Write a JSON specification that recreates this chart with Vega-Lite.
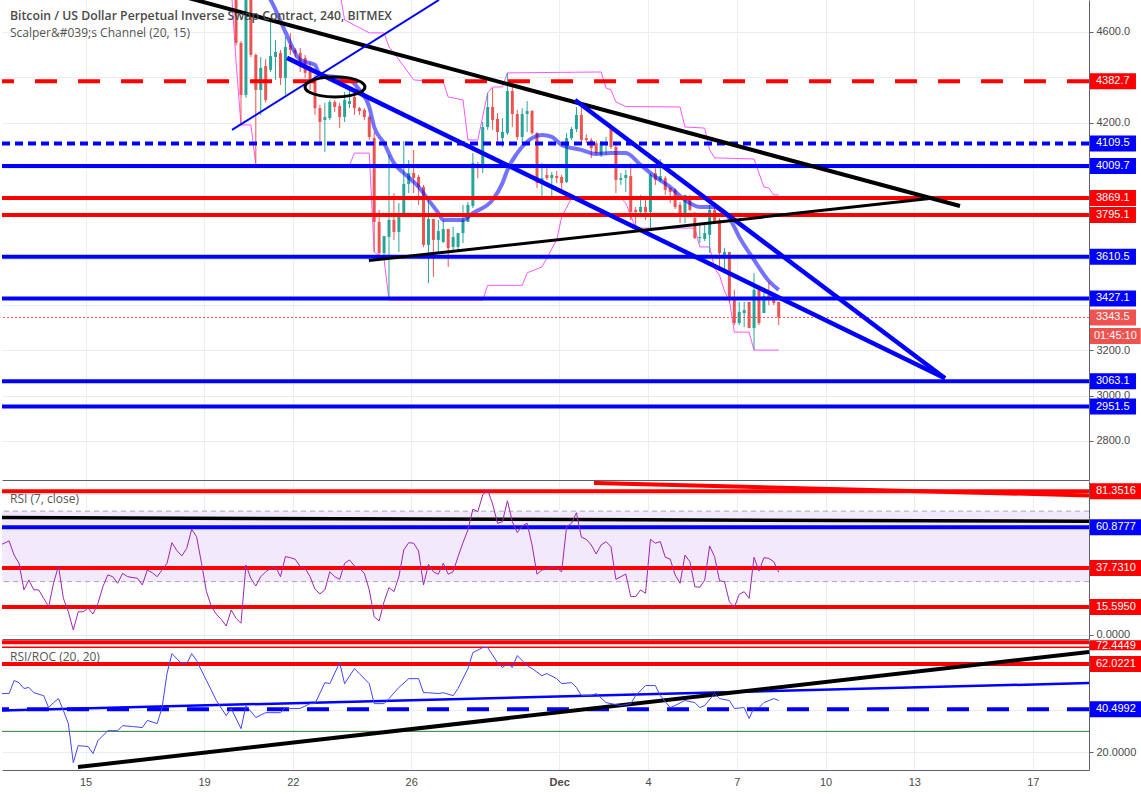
{
"$schema":"https://vega.github.io/schema/vega-lite/v6.json",
"padding":0,
"background":"white",
"spacing":1,
"bounds":"flush",
"config":{"view":{"stroke":null},
"scale":{"continuousPadding":0},
"axisX":{"grid":true,"ticks":false,"gridColor":"#e9eef3","domainColor":"#5d606b","labelColor":"#4a4a4a","labelFontSize":11,"labelFont":"Liberation Sans"},
"axisY":{"grid":true,"gridColor":"#e9eef3","domainColor":"#5d606b","tickColor":"#5d606b","tickSize":4,"labelColor":"#4a4a4a","labelFontSize":11,"labelFont":"Liberation Sans","labelPadding":3}},
"datasets":{
"cnd":[
{"t":"2018-11-20T02:00Z","o":4790,"h":4830,"l":4540,"c":4552},
{"t":"2018-11-20T06:00Z","o":4552,"h":4560,"l":4191,"c":4323},
{"t":"2018-11-20T10:00Z","o":4323,"h":4800,"l":4310,"c":4780},
{"t":"2018-11-20T14:00Z","o":4780,"h":4800,"l":4490,"c":4499},
{"t":"2018-11-20T18:00Z","o":4499,"h":4505,"l":4015,"c":4345},
{"t":"2018-11-20T22:00Z","o":4345,"h":4490,"l":4235,"c":4442},
{"t":"2018-11-21T02:00Z","o":4450,"h":4480,"l":4290,"c":4301},
{"t":"2018-11-21T06:00Z","o":4433,"h":4653,"l":4424,"c":4494},
{"t":"2018-11-21T10:00Z","o":4490,"h":4565,"l":4389,"c":4512},
{"t":"2018-11-21T14:00Z","o":4508,"h":4521,"l":4367,"c":4398},
{"t":"2018-11-21T18:00Z","o":4398,"h":4578,"l":4323,"c":4534},
{"t":"2018-11-21T22:00Z","o":4543,"h":4596,"l":4499,"c":4521},
{"t":"2018-11-22T02:00Z","o":4521,"h":4530,"l":4486,"c":4508},
{"t":"2018-11-22T06:00Z","o":4508,"h":4530,"l":4424,"c":4446},
{"t":"2018-11-22T10:00Z","o":4486,"h":4499,"l":4398,"c":4420},
{"t":"2018-11-22T14:00Z","o":4446,"h":4468,"l":4345,"c":4389},
{"t":"2018-11-22T18:00Z","o":4398,"h":4411,"l":4235,"c":4265},
{"t":"2018-11-22T22:00Z","o":4265,"h":4279,"l":4111,"c":4204},
{"t":"2018-11-23T02:00Z","o":4213,"h":4288,"l":4072,"c":4226},
{"t":"2018-11-23T06:00Z","o":4221,"h":4301,"l":4213,"c":4292},
{"t":"2018-11-23T10:00Z","o":4292,"h":4301,"l":4248,"c":4270},
{"t":"2018-11-23T14:00Z","o":4274,"h":4288,"l":4177,"c":4226},
{"t":"2018-11-23T18:00Z","o":4226,"h":4336,"l":4204,"c":4301},
{"t":"2018-11-23T22:00Z","o":4283,"h":4345,"l":4265,"c":4296},
{"t":"2018-11-24T02:00Z","o":4314,"h":4332,"l":4235,"c":4265},
{"t":"2018-11-24T06:00Z","o":4265,"h":4270,"l":4235,"c":4252},
{"t":"2018-11-24T10:00Z","o":4257,"h":4265,"l":4213,"c":4226},
{"t":"2018-11-24T14:00Z","o":4226,"h":4235,"l":4125,"c":4138},
{"t":"2018-11-24T18:00Z","o":4133,"h":4160,"l":3632,"c":3764},
{"t":"2018-11-24T22:00Z","o":3764,"h":3817,"l":3619,"c":3627},
{"t":"2018-11-25T02:00Z","o":3627,"h":3702,"l":3597,"c":3702},
{"t":"2018-11-25T06:00Z","o":3698,"h":4059,"l":3420,"c":3773},
{"t":"2018-11-25T10:00Z","o":3773,"h":3891,"l":3685,"c":3720},
{"t":"2018-11-25T14:00Z","o":3720,"h":3847,"l":3632,"c":3795},
{"t":"2018-11-25T18:00Z","o":3795,"h":4120,"l":3786,"c":3931},
{"t":"2018-11-25T22:00Z","o":3931,"h":4037,"l":3891,"c":3979},
{"t":"2018-11-26T02:00Z","o":3979,"h":4081,"l":3891,"c":3957},
{"t":"2018-11-26T06:00Z","o":3962,"h":3971,"l":3839,"c":3918},
{"t":"2018-11-26T10:00Z","o":3918,"h":3927,"l":3654,"c":3663},
{"t":"2018-11-26T14:00Z","o":3663,"h":3865,"l":3495,"c":3777},
{"t":"2018-11-26T18:00Z","o":3777,"h":3777,"l":3522,"c":3685},
{"t":"2018-11-26T22:00Z","o":3685,"h":3773,"l":3632,"c":3724},
{"t":"2018-11-27T02:00Z","o":3676,"h":3773,"l":3671,"c":3733},
{"t":"2018-11-27T06:00Z","o":3733,"h":3733,"l":3566,"c":3649},
{"t":"2018-11-27T10:00Z","o":3654,"h":3742,"l":3636,"c":3698},
{"t":"2018-11-27T14:00Z","o":3654,"h":3715,"l":3641,"c":3715},
{"t":"2018-11-27T18:00Z","o":3715,"h":3839,"l":3671,"c":3773},
{"t":"2018-11-27T22:00Z","o":3764,"h":3852,"l":3764,"c":3839},
{"t":"2018-11-28T02:00Z","o":3834,"h":4067,"l":3825,"c":4023},
{"t":"2018-11-28T06:00Z","o":4019,"h":4028,"l":3957,"c":4001},
{"t":"2018-11-28T10:00Z","o":4001,"h":4204,"l":3979,"c":4182},
{"t":"2018-11-28T14:00Z","o":4182,"h":4332,"l":4169,"c":4270},
{"t":"2018-11-28T18:00Z","o":4270,"h":4354,"l":4169,"c":4213},
{"t":"2018-11-28T22:00Z","o":4217,"h":4243,"l":4116,"c":4160},
{"t":"2018-11-29T02:00Z","o":4133,"h":4221,"l":4094,"c":4160},
{"t":"2018-11-29T06:00Z","o":4155,"h":4420,"l":4147,"c":4340},
{"t":"2018-11-29T10:00Z","o":4340,"h":4358,"l":4182,"c":4239},
{"t":"2018-11-29T14:00Z","o":4239,"h":4257,"l":4125,"c":4138},
{"t":"2018-11-29T18:00Z","o":4138,"h":4265,"l":4111,"c":4239},
{"t":"2018-11-29T22:00Z","o":4239,"h":4296,"l":4160,"c":4252},
{"t":"2018-11-30T02:00Z","o":4252,"h":4257,"l":4147,"c":4155},
{"t":"2018-11-30T06:00Z","o":4155,"h":4160,"l":3913,"c":3935},
{"t":"2018-11-30T10:00Z","o":3935,"h":4023,"l":3869,"c":3957},
{"t":"2018-11-30T14:00Z","o":3971,"h":4010,"l":3949,"c":3957},
{"t":"2018-11-30T18:00Z","o":3957,"h":3984,"l":3869,"c":3971},
{"t":"2018-11-30T22:00Z","o":3966,"h":3988,"l":3935,"c":3957},
{"t":"2018-12-01T02:00Z","o":3962,"h":3971,"l":3900,"c":3935},
{"t":"2018-12-01T06:00Z","o":3940,"h":4155,"l":3935,"c":4133},
{"t":"2018-12-01T10:00Z","o":4133,"h":4182,"l":4125,"c":4173},
{"t":"2018-12-01T14:00Z","o":4173,"h":4270,"l":4160,"c":4235},
{"t":"2018-12-01T18:00Z","o":4235,"h":4270,"l":4111,"c":4125},
{"t":"2018-12-01T22:00Z","o":4133,"h":4150,"l":4111,"c":4125},
{"t":"2018-12-02T02:00Z","o":4125,"h":4133,"l":4045,"c":4089},
{"t":"2018-12-02T06:00Z","o":4111,"h":4120,"l":4059,"c":4067},
{"t":"2018-12-02T10:00Z","o":4059,"h":4120,"l":4050,"c":4111},
{"t":"2018-12-02T14:00Z","o":4103,"h":4138,"l":4059,"c":4116},
{"t":"2018-12-02T18:00Z","o":4182,"h":4182,"l":4085,"c":4094},
{"t":"2018-12-02T22:00Z","o":4094,"h":4111,"l":3891,"c":3949},
{"t":"2018-12-03T02:00Z","o":3949,"h":3979,"l":3927,"c":3957},
{"t":"2018-12-03T06:00Z","o":3957,"h":3993,"l":3896,"c":3971},
{"t":"2018-12-03T10:00Z","o":3966,"h":4023,"l":3773,"c":3808},
{"t":"2018-12-03T14:00Z","o":3817,"h":3830,"l":3742,"c":3808},
{"t":"2018-12-03T18:00Z","o":3808,"h":3883,"l":3786,"c":3830},
{"t":"2018-12-03T22:00Z","o":3830,"h":3865,"l":3773,"c":3808},
{"t":"2018-12-04T02:00Z","o":3808,"h":3979,"l":3729,"c":3971},
{"t":"2018-12-04T06:00Z","o":3979,"h":4001,"l":3927,"c":3949},
{"t":"2018-12-04T10:00Z","o":3949,"h":4041,"l":3940,"c":3966},
{"t":"2018-12-04T14:00Z","o":3957,"h":3966,"l":3883,"c":3905},
{"t":"2018-12-04T18:00Z","o":3913,"h":3918,"l":3847,"c":3896},
{"t":"2018-12-04T22:00Z","o":3905,"h":3913,"l":3821,"c":3830},
{"t":"2018-12-05T02:00Z","o":3839,"h":3852,"l":3759,"c":3790},
{"t":"2018-12-05T06:00Z","o":3795,"h":3883,"l":3759,"c":3883},
{"t":"2018-12-05T10:00Z","o":3874,"h":3883,"l":3812,"c":3817},
{"t":"2018-12-05T14:00Z","o":3781,"h":3808,"l":3689,"c":3693},
{"t":"2018-12-05T18:00Z","o":3693,"h":3751,"l":3671,"c":3698},
{"t":"2018-12-05T22:00Z","o":3689,"h":3751,"l":3680,"c":3715},
{"t":"2018-12-06T02:00Z","o":3707,"h":3839,"l":3627,"c":3817},
{"t":"2018-12-06T06:00Z","o":3817,"h":3839,"l":3759,"c":3764},
{"t":"2018-12-06T10:00Z","o":3773,"h":3781,"l":3553,"c":3627},
{"t":"2018-12-06T14:00Z","o":3619,"h":3649,"l":3544,"c":3632},
{"t":"2018-12-06T18:00Z","o":3632,"h":3632,"l":3407,"c":3420},
{"t":"2018-12-06T22:00Z","o":3429,"h":3465,"l":3310,"c":3319},
{"t":"2018-12-07T02:00Z","o":3319,"h":3412,"l":3310,"c":3368},
{"t":"2018-12-07T06:00Z","o":3363,"h":3412,"l":3302,"c":3376},
{"t":"2018-12-07T10:00Z","o":3412,"h":3412,"l":3297,"c":3297},
{"t":"2018-12-07T14:00Z","o":3297,"h":3539,"l":3200,"c":3465},
{"t":"2018-12-07T18:00Z","o":3465,"h":3465,"l":3310,"c":3319},
{"t":"2018-12-07T22:00Z","o":3363,"h":3456,"l":3363,"c":3438},
{"t":"2018-12-08T02:00Z","o":3442,"h":3500,"l":3398,"c":3429},
{"t":"2018-12-08T06:00Z","o":3429,"h":3438,"l":3398,"c":3407},
{"t":"2018-12-08T10:00Z","o":3412,"h":3412,"l":3310,"c":3343.5}
],
"ma":[
{"t":"2018-11-20T22:00Z","p":4800},{"t":"2018-11-21T06:00Z","p":4741},{"t":"2018-11-21T18:00Z","p":4600},{"t":"2018-11-22T06:00Z","p":4477},{"t":"2018-11-22T18:00Z","p":4455},{"t":"2018-11-22T22:00Z","p":4411},{"t":"2018-11-23T10:00Z","p":4402},{"t":"2018-11-23T22:00Z","p":4389},{"t":"2018-11-24T06:00Z","p":4345},{"t":"2018-11-24T14:00Z","p":4270},{"t":"2018-11-24T18:00Z","p":4182},{"t":"2018-11-25T02:00Z","p":4111},{"t":"2018-11-25T10:00Z","p":4023},{"t":"2018-11-25T18:00Z","p":3979},{"t":"2018-11-26T06:00Z","p":3918},{"t":"2018-11-26T14:00Z","p":3861},{"t":"2018-11-26T22:00Z","p":3803},{"t":"2018-11-27T02:00Z","p":3773},{"t":"2018-11-27T18:00Z","p":3773},{"t":"2018-11-28T02:00Z","p":3803},{"t":"2018-11-28T18:00Z","p":3861},{"t":"2018-11-29T02:00Z","p":3935},{"t":"2018-11-29T06:00Z","p":3993},{"t":"2018-11-29T14:00Z","p":4067},{"t":"2018-11-30T02:00Z","p":4133},{"t":"2018-11-30T10:00Z","p":4147},{"t":"2018-11-30T18:00Z","p":4138},{"t":"2018-12-01T02:00Z","p":4103},{"t":"2018-12-01T18:00Z","p":4081},{"t":"2018-12-02T06:00Z","p":4063},{"t":"2018-12-02T18:00Z","p":4067},{"t":"2018-12-03T06:00Z","p":4067},{"t":"2018-12-03T18:00Z","p":4015},{"t":"2018-12-04T06:00Z","p":3962},{"t":"2018-12-04T18:00Z","p":3918},{"t":"2018-12-05T06:00Z","p":3861},{"t":"2018-12-05T18:00Z","p":3830},{"t":"2018-12-06T06:00Z","p":3830},{"t":"2018-12-06T10:00Z","p":3820},{"t":"2018-12-06T18:00Z","p":3781},{"t":"2018-12-07T02:00Z","p":3698},{"t":"2018-12-07T14:00Z","p":3597},{"t":"2018-12-08T02:00Z","p":3504},{"t":"2018-12-08T10:00Z","p":3465}
],
"chan":[
{"b":"upper","t":"2018-11-23T14:00Z","p":4780},{"b":"upper","t":"2018-11-23T18:00Z","p":4653},{"b":"upper","t":"2018-11-24T14:00Z","p":4596},{"b":"upper","t":"2018-11-25T02:00Z","p":4596},{"b":"upper","t":"2018-11-25T06:00Z","p":4534},{"b":"upper","t":"2018-11-25T10:00Z","p":4508},{"b":"upper","t":"2018-11-26T02:00Z","p":4389},{"b":"upper","t":"2018-11-27T02:00Z","p":4380},{"b":"upper","t":"2018-11-27T06:00Z","p":4314},{"b":"upper","t":"2018-11-27T18:00Z","p":4301},{"b":"upper","t":"2018-11-27T22:00Z","p":4125},{"b":"upper","t":"2018-11-28T06:00Z","p":4125},{"b":"upper","t":"2018-11-28T14:00Z","p":4332},{"b":"upper","t":"2018-11-28T18:00Z","p":4358},{"b":"upper","t":"2018-11-29T02:00Z","p":4358},{"b":"upper","t":"2018-11-29T06:00Z","p":4420},{"b":"upper","t":"2018-12-02T10:00Z","p":4424},{"b":"upper","t":"2018-12-02T14:00Z","p":4354},{"b":"upper","t":"2018-12-02T18:00Z","p":4345},{"b":"upper","t":"2018-12-02T22:00Z","p":4292},{"b":"upper","t":"2018-12-03T06:00Z","p":4272},{"b":"upper","t":"2018-12-05T02:00Z","p":4270},{"b":"upper","t":"2018-12-05T06:00Z","p":4182},{"b":"upper","t":"2018-12-05T22:00Z","p":4177},{"b":"upper","t":"2018-12-06T02:00Z","p":4081},{"b":"upper","t":"2018-12-06T06:00Z","p":4046},{"b":"upper","t":"2018-12-07T14:00Z","p":4041},{"b":"upper","t":"2018-12-07T18:00Z","p":3979},{"b":"upper","t":"2018-12-07T22:00Z","p":3918},{"b":"upper","t":"2018-12-08T02:00Z","p":3913},{"b":"upper","t":"2018-12-08T06:00Z","p":3883},{"b":"upper","t":"2018-12-08T10:00Z","p":3883},
{"b":"lower","t":"2018-11-19T22:00Z","p":4800},{"b":"lower","t":"2018-11-20T02:00Z","p":4468},{"b":"lower","t":"2018-11-20T06:00Z","p":4191},{"b":"lower","t":"2018-11-20T14:00Z","p":4191},{"b":"lower","t":"2018-11-20T18:00Z","p":4015},{"b":"lower","t":"2018-11-23T22:00Z","p":4015},{"b":"lower","t":"2018-11-24T02:00Z","p":4067},{"b":"lower","t":"2018-11-24T14:00Z","p":4067},{"b":"lower","t":"2018-11-24T18:00Z","p":3632},{"b":"lower","t":"2018-11-25T02:00Z","p":3600},{"b":"lower","t":"2018-11-25T06:00Z","p":3420},{"b":"lower","t":"2018-11-28T10:00Z","p":3420},{"b":"lower","t":"2018-11-28T14:00Z","p":3485},{"b":"lower","t":"2018-11-29T18:00Z","p":3485},{"b":"lower","t":"2018-11-29T22:00Z","p":3540},{"b":"lower","t":"2018-11-30T10:00Z","p":3566},{"b":"lower","t":"2018-11-30T22:00Z","p":3685},{"b":"lower","t":"2018-12-01T02:00Z","p":3786},{"b":"lower","t":"2018-12-01T10:00Z","p":3869},{"b":"lower","t":"2018-12-03T02:00Z","p":3869},{"b":"lower","t":"2018-12-03T06:00Z","p":3847},{"b":"lower","t":"2018-12-03T14:00Z","p":3737},{"b":"lower","t":"2018-12-05T14:00Z","p":3737},{"b":"lower","t":"2018-12-05T18:00Z","p":3654},{"b":"lower","t":"2018-12-06T02:00Z","p":3654},{"b":"lower","t":"2018-12-06T06:00Z","p":3560},{"b":"lower","t":"2018-12-06T10:00Z","p":3530},{"b":"lower","t":"2018-12-06T14:00Z","p":3460},{"b":"lower","t":"2018-12-06T18:00Z","p":3420},{"b":"lower","t":"2018-12-06T22:00Z","p":3279},{"b":"lower","t":"2018-12-07T10:00Z","p":3279},{"b":"lower","t":"2018-12-07T14:00Z","p":3200},{"b":"lower","t":"2018-12-08T10:00Z","p":3200}
],
"lv_red":[{"p":3869.1},{"p":3795.1}],
"lv_red_dash":[{"p":4382.7}],
"lv_blue":[{"p":4009.7},{"p":3610.5},{"p":3427.1},{"p":3063.1},{"p":2951.5}],
"lv_blue_dash":[{"p":4109.5}],
"last":[{"p":3343.5}],
"countdown":[{"p":3262,"txt":"01:45:10"}],
"tl_black":[{"t":"2018-11-18T02:54Z","p":4762},{"t":"2018-12-14T13:00Z","p":3834}],
"tl_bthin":[{"t":"2018-11-19T22:42Z","p":4169},{"t":"2018-11-26T22:30Z","p":4741}],
"tl_bthick":[{"id":"a","t":"2018-11-21T19:18Z","p":4486},{"id":"a","t":"2018-12-14T00:48Z","p":3076},{"id":"b","t":"2018-12-01T12:48Z","p":4301},{"id":"b","t":"2018-12-14T00:48Z","p":3076}],
"tl_black2":[{"t":"2018-11-24T13:42Z","p":3594},{"t":"2018-12-13T15:54Z","p":3869}],
"ellipse":[{"i":0,"t":"2018-11-24T10:30Z","p":4358},{"i":1,"t":"2018-11-24T07:18Z","p":4336},{"i":2,"t":"2018-11-23T22:24Z","p":4320},{"i":3,"t":"2018-11-23T10:12Z","p":4314},{"i":4,"t":"2018-11-22T22:06Z","p":4320},{"i":5,"t":"2018-11-22T13:06Z","p":4336},{"i":6,"t":"2018-11-22T09:54Z","p":4358},{"i":7,"t":"2018-11-22T13:06Z","p":4380},{"i":8,"t":"2018-11-22T22:06Z","p":4397},{"i":9,"t":"2018-11-23T10:12Z","p":4402},{"i":10,"t":"2018-11-23T22:24Z","p":4397},{"i":11,"t":"2018-11-24T07:18Z","p":4380}],
"rsi":[
{"t":"2018-11-12T02:00Z","p":50.5},{"t":"2018-11-12T06:00Z","p":51.8},{"t":"2018-11-12T10:00Z","p":53.1},{"t":"2018-11-12T14:00Z","p":45.1},{"t":"2018-11-12T18:00Z","p":40.4},{"t":"2018-11-12T22:00Z","p":25.3},{"t":"2018-11-13T02:00Z","p":30.9},{"t":"2018-11-13T06:00Z","p":25.3},{"t":"2018-11-13T10:00Z","p":25.3},{"t":"2018-11-13T14:00Z","p":20.5},{"t":"2018-11-13T18:00Z","p":15.8},{"t":"2018-11-13T22:00Z","p":29.1},{"t":"2018-11-14T02:00Z","p":38.9},{"t":"2018-11-14T06:00Z","p":20.5},{"t":"2018-11-14T10:00Z","p":12.9},{"t":"2018-11-14T14:00Z","p":2.6},{"t":"2018-11-14T18:00Z","p":12.9},{"t":"2018-11-14T22:00Z","p":12.9},{"t":"2018-11-15T02:00Z","p":14.9},{"t":"2018-11-15T06:00Z","p":11.6},{"t":"2018-11-15T10:00Z","p":17.7},{"t":"2018-11-15T14:00Z","p":27.1},{"t":"2018-11-15T18:00Z","p":33.8},{"t":"2018-11-15T22:00Z","p":32.8},{"t":"2018-11-16T02:00Z","p":29.1},{"t":"2018-11-16T06:00Z","p":34.7},{"t":"2018-11-16T10:00Z","p":32.8},{"t":"2018-11-16T18:00Z","p":31.9},{"t":"2018-11-16T22:00Z","p":28.1},{"t":"2018-11-17T02:00Z","p":36.6},{"t":"2018-11-17T06:00Z","p":35.1},{"t":"2018-11-17T10:00Z","p":32.8},{"t":"2018-11-17T14:00Z","p":36.6},{"t":"2018-11-17T18:00Z","p":40.4},{"t":"2018-11-17T22:00Z","p":52.1},{"t":"2018-11-18T02:00Z","p":47.6},{"t":"2018-11-18T06:00Z","p":44.6},{"t":"2018-11-18T10:00Z","p":48.9},{"t":"2018-11-18T14:00Z","p":59.7},{"t":"2018-11-18T18:00Z","p":55.5},{"t":"2018-11-18T22:00Z","p":40.4},{"t":"2018-11-19T02:00Z","p":24.3},{"t":"2018-11-19T06:00Z","p":15.8},{"t":"2018-11-19T10:00Z","p":11.5},{"t":"2018-11-19T14:00Z","p":8.6},{"t":"2018-11-19T18:00Z","p":4.8},{"t":"2018-11-19T22:00Z","p":13.9},{"t":"2018-11-20T02:00Z","p":9.2},{"t":"2018-11-20T06:00Z","p":6.4},{"t":"2018-11-20T10:00Z","p":39.4},{"t":"2018-11-20T14:00Z","p":31.9},{"t":"2018-11-20T18:00Z","p":27.5},{"t":"2018-11-20T22:00Z","p":32.8},{"t":"2018-11-21T02:00Z","p":35.6},{"t":"2018-11-21T06:00Z","p":37.6},{"t":"2018-11-21T10:00Z","p":38.5},{"t":"2018-11-21T14:00Z","p":32.8},{"t":"2018-11-21T18:00Z","p":44.2},{"t":"2018-11-21T22:00Z","p":43.6},{"t":"2018-11-22T02:00Z","p":42.7},{"t":"2018-11-22T06:00Z","p":38.5},{"t":"2018-11-22T10:00Z","p":37.6},{"t":"2018-11-22T14:00Z","p":32.8},{"t":"2018-11-22T18:00Z","p":25.7},{"t":"2018-11-22T22:00Z","p":23.0},{"t":"2018-11-23T02:00Z","p":25.3},{"t":"2018-11-23T06:00Z","p":35.6},{"t":"2018-11-23T10:00Z","p":32.8},{"t":"2018-11-23T14:00Z","p":31.3},{"t":"2018-11-23T18:00Z","p":40.4},{"t":"2018-11-23T22:00Z","p":42.3},{"t":"2018-11-24T02:00Z","p":38.9},{"t":"2018-11-24T06:00Z","p":37.6},{"t":"2018-11-24T10:00Z","p":34.7},{"t":"2018-11-24T14:00Z","p":25.3},{"t":"2018-11-24T18:00Z","p":10.1},{"t":"2018-11-24T22:00Z","p":7.7},{"t":"2018-11-25T02:00Z","p":18.6},{"t":"2018-11-25T06:00Z","p":26.6},{"t":"2018-11-25T10:00Z","p":24.3},{"t":"2018-11-25T14:00Z","p":32.8},{"t":"2018-11-25T18:00Z","p":48.0},{"t":"2018-11-25T22:00Z","p":52.1},{"t":"2018-11-26T02:00Z","p":51.8},{"t":"2018-11-26T06:00Z","p":47.4},{"t":"2018-11-26T10:00Z","p":28.1},{"t":"2018-11-26T14:00Z","p":39.8},{"t":"2018-11-26T18:00Z","p":35.6},{"t":"2018-11-26T22:00Z","p":34.2},{"t":"2018-11-27T02:00Z","p":40.4},{"t":"2018-11-27T06:00Z","p":34.2},{"t":"2018-11-27T10:00Z","p":35.6},{"t":"2018-11-27T14:00Z","p":44.2},{"t":"2018-11-27T18:00Z","p":52.1},{"t":"2018-11-27T22:00Z","p":59.3},{"t":"2018-11-28T02:00Z","p":71.1},{"t":"2018-11-28T06:00Z","p":69.7},{"t":"2018-11-28T10:00Z","p":79.2},{"t":"2018-11-28T14:00Z","p":82.0},{"t":"2018-11-28T18:00Z","p":74.1},{"t":"2018-11-28T22:00Z","p":63.1},{"t":"2018-11-29T02:00Z","p":64.0},{"t":"2018-11-29T06:00Z","p":75.9},{"t":"2018-11-29T10:00Z","p":64.0},{"t":"2018-11-29T14:00Z","p":57.8},{"t":"2018-11-29T18:00Z","p":61.6},{"t":"2018-11-29T22:00Z","p":63.1},{"t":"2018-11-30T02:00Z","p":50.8},{"t":"2018-11-30T06:00Z","p":34.2},{"t":"2018-11-30T10:00Z","p":36.6},{"t":"2018-11-30T14:00Z","p":37.0},{"t":"2018-11-30T18:00Z","p":38.5},{"t":"2018-11-30T22:00Z","p":37.6},{"t":"2018-12-01T02:00Z","p":35.6},{"t":"2018-12-01T06:00Z","p":61.2},{"t":"2018-12-01T10:00Z","p":63.1},{"t":"2018-12-01T14:00Z","p":69.1},{"t":"2018-12-01T18:00Z","p":55.2},{"t":"2018-12-01T22:00Z","p":54.0},{"t":"2018-12-02T02:00Z","p":50.8},{"t":"2018-12-02T06:00Z","p":45.7},{"t":"2018-12-02T10:00Z","p":50.8},{"t":"2018-12-02T14:00Z","p":52.7},{"t":"2018-12-02T18:00Z","p":49.8},{"t":"2018-12-02T22:00Z","p":31.3},{"t":"2018-12-03T02:00Z","p":32.8},{"t":"2018-12-03T06:00Z","p":34.3},{"t":"2018-12-03T10:00Z","p":21.5},{"t":"2018-12-03T14:00Z","p":21.5},{"t":"2018-12-03T18:00Z","p":25.3},{"t":"2018-12-03T22:00Z","p":23.4},{"t":"2018-12-04T02:00Z","p":54.0},{"t":"2018-12-04T06:00Z","p":51.8},{"t":"2018-12-04T10:00Z","p":52.7},{"t":"2018-12-04T14:00Z","p":43.8},{"t":"2018-12-04T18:00Z","p":42.8},{"t":"2018-12-04T22:00Z","p":33.8},{"t":"2018-12-05T02:00Z","p":29.1},{"t":"2018-12-05T06:00Z","p":45.1},{"t":"2018-12-05T10:00Z","p":41.3},{"t":"2018-12-05T14:00Z","p":27.1},{"t":"2018-12-05T18:00Z","p":26.8},{"t":"2018-12-05T22:00Z","p":30.9},{"t":"2018-12-06T02:00Z","p":50.2},{"t":"2018-12-06T06:00Z","p":44.2},{"t":"2018-12-06T10:00Z","p":30.5},{"t":"2018-12-06T14:00Z","p":30.0},{"t":"2018-12-06T18:00Z","p":18.6},{"t":"2018-12-06T22:00Z","p":15.4},{"t":"2018-12-07T02:00Z","p":22.8},{"t":"2018-12-07T06:00Z","p":24.3},{"t":"2018-12-07T10:00Z","p":20.5},{"t":"2018-12-07T14:00Z","p":43.8},{"t":"2018-12-07T18:00Z","p":36.0},{"t":"2018-12-07T22:00Z","p":43.6},{"t":"2018-12-08T02:00Z","p":43.2},{"t":"2018-12-08T06:00Z","p":41.3},{"t":"2018-12-08T10:00Z","p":35.3}
],
"rsi_band":[{"p":70},{"p":30}],
"rsi_lv_red":[{"p":81.3516},{"p":37.731},{"p":15.595}],
"rsi_lv_blue":[{"p":60.8777}],
"rsi_black":[{"t":"2018-11-12T04:12Z","p":66.35},{"t":"2018-12-18T21:36Z","p":64.25}],
"rsi_red":[{"t":"2018-12-02T04:12Z","p":86.0},{"t":"2018-12-18T21:36Z","p":78.9}],
"roc":[
{"t":"2018-11-12T02:00Z","p":48.0},{"t":"2018-11-12T10:00Z","p":48.0},{"t":"2018-11-12T14:00Z","p":54.2},{"t":"2018-11-12T18:00Z","p":53.2},{"t":"2018-11-12T22:00Z","p":50.4},{"t":"2018-11-13T02:00Z","p":50.9},{"t":"2018-11-13T06:00Z","p":48.4},{"t":"2018-11-13T14:00Z","p":47.0},{"t":"2018-11-13T18:00Z","p":41.3},{"t":"2018-11-13T22:00Z","p":43.7},{"t":"2018-11-14T02:00Z","p":45.6},{"t":"2018-11-14T06:00Z","p":39.9},{"t":"2018-11-14T10:00Z","p":33.7},{"t":"2018-11-14T14:00Z","p":15.1},{"t":"2018-11-14T18:00Z","p":23.2},{"t":"2018-11-15T02:00Z","p":22.8},{"t":"2018-11-15T06:00Z","p":19.4},{"t":"2018-11-15T10:00Z","p":25.6},{"t":"2018-11-15T18:00Z","p":30.3},{"t":"2018-11-16T02:00Z","p":30.3},{"t":"2018-11-16T06:00Z","p":32.7},{"t":"2018-11-16T14:00Z","p":32.3},{"t":"2018-11-16T22:00Z","p":31.8},{"t":"2018-11-17T02:00Z","p":35.2},{"t":"2018-11-17T10:00Z","p":33.7},{"t":"2018-11-17T14:00Z","p":41.3},{"t":"2018-11-17T18:00Z","p":57.5},{"t":"2018-11-17T22:00Z","p":67.0},{"t":"2018-11-18T06:00Z","p":62.2},{"t":"2018-11-18T10:00Z","p":62.2},{"t":"2018-11-18T14:00Z","p":67.0},{"t":"2018-11-18T18:00Z","p":63.7},{"t":"2018-11-19T02:00Z","p":54.2},{"t":"2018-11-19T06:00Z","p":49.5},{"t":"2018-11-19T10:00Z","p":44.7},{"t":"2018-11-19T18:00Z","p":37.5},{"t":"2018-11-19T22:00Z","p":40.9},{"t":"2018-11-20T06:00Z","p":31.3},{"t":"2018-11-20T10:00Z","p":42.3},{"t":"2018-11-20T18:00Z","p":36.6},{"t":"2018-11-21T02:00Z","p":38.9},{"t":"2018-11-21T14:00Z","p":38.9},{"t":"2018-11-21T18:00Z","p":41.3},{"t":"2018-11-21T22:00Z","p":40.9},{"t":"2018-11-22T06:00Z","p":40.9},{"t":"2018-11-22T14:00Z","p":43.2},{"t":"2018-11-22T18:00Z","p":43.2},{"t":"2018-11-23T02:00Z","p":53.2},{"t":"2018-11-23T06:00Z","p":52.7},{"t":"2018-11-23T14:00Z","p":62.7},{"t":"2018-11-23T18:00Z","p":52.7},{"t":"2018-11-24T02:00Z","p":59.9},{"t":"2018-11-24T06:00Z","p":57.5},{"t":"2018-11-24T14:00Z","p":52.7},{"t":"2018-11-24T18:00Z","p":43.2},{"t":"2018-11-25T02:00Z","p":43.2},{"t":"2018-11-25T06:00Z","p":45.6},{"t":"2018-11-25T14:00Z","p":50.9},{"t":"2018-11-25T22:00Z","p":55.1},{"t":"2018-11-26T06:00Z","p":55.1},{"t":"2018-11-26T10:00Z","p":48.4},{"t":"2018-11-26T14:00Z","p":48.4},{"t":"2018-11-26T22:00Z","p":48.0},{"t":"2018-11-27T02:00Z","p":48.4},{"t":"2018-11-27T10:00Z","p":47.0},{"t":"2018-11-27T14:00Z","p":50.4},{"t":"2018-11-27T22:00Z","p":59.9},{"t":"2018-11-28T02:00Z","p":67.5},{"t":"2018-11-28T10:00Z","p":69.9},{"t":"2018-11-28T14:00Z","p":69.9},{"t":"2018-11-28T22:00Z","p":62.7},{"t":"2018-11-29T02:00Z","p":60.4},{"t":"2018-11-29T06:00Z","p":62.2},{"t":"2018-11-29T10:00Z","p":60.4},{"t":"2018-11-29T14:00Z","p":66.1},{"t":"2018-11-29T22:00Z","p":61.3},{"t":"2018-11-30T02:00Z","p":59.9},{"t":"2018-11-30T10:00Z","p":56.5},{"t":"2018-11-30T14:00Z","p":57.5},{"t":"2018-11-30T22:00Z","p":55.1},{"t":"2018-12-01T02:00Z","p":52.7},{"t":"2018-12-01T10:00Z","p":53.2},{"t":"2018-12-01T14:00Z","p":50.9},{"t":"2018-12-01T18:00Z","p":47.0},{"t":"2018-12-02T02:00Z","p":47.0},{"t":"2018-12-02T06:00Z","p":48.0},{"t":"2018-12-02T14:00Z","p":43.7},{"t":"2018-12-02T18:00Z","p":43.2},{"t":"2018-12-03T02:00Z","p":42.3},{"t":"2018-12-03T10:00Z","p":43.2},{"t":"2018-12-03T14:00Z","p":47.0},{"t":"2018-12-03T22:00Z","p":51.8},{"t":"2018-12-04T06:00Z","p":51.8},{"t":"2018-12-04T10:00Z","p":47.0},{"t":"2018-12-04T18:00Z","p":41.3},{"t":"2018-12-04T22:00Z","p":42.3},{"t":"2018-12-05T06:00Z","p":44.7},{"t":"2018-12-05T14:00Z","p":43.7},{"t":"2018-12-05T18:00Z","p":41.3},{"t":"2018-12-05T22:00Z","p":42.3},{"t":"2018-12-06T06:00Z","p":48.0},{"t":"2018-12-06T10:00Z","p":45.6},{"t":"2018-12-06T18:00Z","p":44.7},{"t":"2018-12-06T22:00Z","p":40.9},{"t":"2018-12-07T06:00Z","p":41.3},{"t":"2018-12-07T10:00Z","p":36.1},{"t":"2018-12-07T14:00Z","p":41.3},{"t":"2018-12-07T18:00Z","p":41.3},{"t":"2018-12-07T22:00Z","p":43.7},{"t":"2018-12-08T06:00Z","p":45.6},{"t":"2018-12-08T10:00Z","p":44.7}
],
"roc_lv_red":[{"p":72.4449},{"p":62.0221}],
"roc_thin_red":[{"p":70}],
"roc_lv_blue_dash":[{"p":40.4992}],
"roc_green":[{"p":30}],
"roc_blue":[{"t":"2018-11-12T04:12Z","p":39.93},{"t":"2018-12-18T21:36Z","p":53.0}],
"roc_black":[{"t":"2018-11-14T17:48Z","p":13.0},{"t":"2018-12-18T21:36Z","p":67.8}]
},
"vconcat":[
{"width":1087,"height":480,
"layer":[
{"data":{"name":"chan"},"mark":{"type":"line","color":"#ff55ff","strokeWidth":1,"clip":true},"encoding":{"x":{"field":"t","type":"temporal","scale":{"type":"utc","domain":[1541995920000,1545168960000],"padding":0},"axis":{"values":[1542240000000,1542585600000,1542844800000,1543190400000,1543622400000,1543881600000,1544140800000,1544400000000,1544659200000,1545004800000],"title":null,"labels":false}},"y":{"field":"p","type":"quantitative","scale":{"domain":[2628.3,4740.8],"nice":false,"zero":false,"padding":0},"axis":{"orient":"right","values":[2800,3000,3200,3400,3600,3800,4000,4200,4400,4600],"labelExpr":"indexof([4400,4000,3800,3600,3400], datum.value) >= 0 ? '' : format(datum.value, '.1f')","title":null}},"detail":{"field":"b"}}},
{"data":{"name":"cnd"},"mark":{"type":"rule","strokeWidth":1,"clip":true},"encoding":{"x":{"field":"t","type":"temporal","scale":{"type":"utc","domain":[1541995920000,1545168960000],"padding":0}},"y":{"field":"l","type":"quantitative","scale":{"domain":[2628.3,4740.8],"nice":false,"zero":false,"padding":0}},"y2":{"field":"h"},"color":{"condition":{"test":"datum.c >= datum.o","value":"#26a69a"},"value":"#ef5350"}}},
{"data":{"name":"cnd"},"mark":{"type":"bar","size":3,"clip":true},"encoding":{"x":{"field":"t","type":"temporal","scale":{"type":"utc","domain":[1541995920000,1545168960000],"padding":0}},"y":{"field":"o","type":"quantitative","scale":{"domain":[2628.3,4740.8],"nice":false,"zero":false,"padding":0}},"y2":{"field":"c"},"color":{"condition":{"test":"datum.c >= datum.o","value":"#26a69a"},"value":"#ef5350"}}},
{"data":{"name":"ma"},"mark":{"type":"line","color":"#0000ff","opacity":0.55,"strokeWidth":4,"interpolate":"monotone","clip":true},"encoding":{"x":{"field":"t","type":"temporal","scale":{"type":"utc","domain":[1541995920000,1545168960000],"padding":0}},"y":{"field":"p","type":"quantitative","scale":{"domain":[2628.3,4740.8],"nice":false,"zero":false,"padding":0}}}},
{"data":{"name":"lv_red"},"layer":[
 {"mark":{"type":"rule","color":"#ff0000","strokeWidth":4},"encoding":{"y":{"field":"p","type":"quantitative","scale":{"domain":[2628.3,4740.8],"nice":false,"zero":false,"padding":0}}}},
 {"mark":{"type":"bar","size":16,"color":"#ff0000"},"encoding":{"x":{"datum":1545171900000,"type":"temporal","scale":{"type":"utc","domain":[1541995920000,1545168960000],"padding":0}},"x2":{"datum":1545306120000},"y":{"field":"p","type":"quantitative","scale":{"domain":[2628.3,4740.8],"nice":false,"zero":false,"padding":0}}}},
 {"mark":{"type":"text","align":"left","baseline":"middle","dx":7,"color":"white","fontSize":11,"font":"Liberation Sans"},"encoding":{"x":{"datum":1545168960000,"type":"temporal","scale":{"type":"utc","domain":[1541995920000,1545168960000],"padding":0}},"y":{"field":"p","type":"quantitative","scale":{"domain":[2628.3,4740.8],"nice":false,"zero":false,"padding":0}},"text":{"field":"p","type":"quantitative","format":".1f"}}}
]},
{"data":{"name":"lv_red_dash"},"layer":[
 {"mark":{"type":"rule","color":"#ff0000","strokeWidth":4,"strokeDash":[22,21]},"encoding":{"y":{"field":"p","type":"quantitative","scale":{"domain":[2628.3,4740.8],"nice":false,"zero":false,"padding":0}}}},
 {"mark":{"type":"bar","size":16,"color":"#ff0000"},"encoding":{"x":{"datum":1545171900000,"type":"temporal","scale":{"type":"utc","domain":[1541995920000,1545168960000],"padding":0}},"x2":{"datum":1545306120000},"y":{"field":"p","type":"quantitative","scale":{"domain":[2628.3,4740.8],"nice":false,"zero":false,"padding":0}}}},
 {"mark":{"type":"text","align":"left","baseline":"middle","dx":7,"color":"white","fontSize":11,"font":"Liberation Sans"},"encoding":{"x":{"datum":1545168960000,"type":"temporal","scale":{"type":"utc","domain":[1541995920000,1545168960000],"padding":0}},"y":{"field":"p","type":"quantitative","scale":{"domain":[2628.3,4740.8],"nice":false,"zero":false,"padding":0}},"text":{"field":"p","type":"quantitative","format":".1f"}}}
]},
{"data":{"name":"lv_blue"},"layer":[
 {"mark":{"type":"rule","color":"#0000ff","strokeWidth":4},"encoding":{"y":{"field":"p","type":"quantitative","scale":{"domain":[2628.3,4740.8],"nice":false,"zero":false,"padding":0}}}},
 {"mark":{"type":"bar","size":16,"color":"#0000ff"},"encoding":{"x":{"datum":1545171900000,"type":"temporal","scale":{"type":"utc","domain":[1541995920000,1545168960000],"padding":0}},"x2":{"datum":1545306120000},"y":{"field":"p","type":"quantitative","scale":{"domain":[2628.3,4740.8],"nice":false,"zero":false,"padding":0}}}},
 {"mark":{"type":"text","align":"left","baseline":"middle","dx":7,"color":"white","fontSize":11,"font":"Liberation Sans"},"encoding":{"x":{"datum":1545168960000,"type":"temporal","scale":{"type":"utc","domain":[1541995920000,1545168960000],"padding":0}},"y":{"field":"p","type":"quantitative","scale":{"domain":[2628.3,4740.8],"nice":false,"zero":false,"padding":0}},"text":{"field":"p","type":"quantitative","format":".1f"}}}
]},
{"data":{"name":"lv_blue_dash"},"layer":[
 {"mark":{"type":"rule","color":"#0000ff","strokeWidth":4,"strokeDash":[8,5]},"encoding":{"y":{"field":"p","type":"quantitative","scale":{"domain":[2628.3,4740.8],"nice":false,"zero":false,"padding":0}}}},
 {"mark":{"type":"bar","size":16,"color":"#0000ff"},"encoding":{"x":{"datum":1545171900000,"type":"temporal","scale":{"type":"utc","domain":[1541995920000,1545168960000],"padding":0}},"x2":{"datum":1545306120000},"y":{"field":"p","type":"quantitative","scale":{"domain":[2628.3,4740.8],"nice":false,"zero":false,"padding":0}}}},
 {"mark":{"type":"text","align":"left","baseline":"middle","dx":7,"color":"white","fontSize":11,"font":"Liberation Sans"},"encoding":{"x":{"datum":1545168960000,"type":"temporal","scale":{"type":"utc","domain":[1541995920000,1545168960000],"padding":0}},"y":{"field":"p","type":"quantitative","scale":{"domain":[2628.3,4740.8],"nice":false,"zero":false,"padding":0}},"text":{"field":"p","type":"quantitative","format":".1f"}}}
]},
{"data":{"name":"last"},"layer":[
 {"mark":{"type":"rule","color":"#ef5350","strokeWidth":1,"strokeDash":[2,2]},"encoding":{"y":{"field":"p","type":"quantitative","scale":{"domain":[2628.3,4740.8],"nice":false,"zero":false,"padding":0}}}},
 {"mark":{"type":"bar","size":16,"color":"#ef5350"},"encoding":{"x":{"datum":1545171900000,"type":"temporal","scale":{"type":"utc","domain":[1541995920000,1545168960000],"padding":0}},"x2":{"datum":1545306120000},"y":{"field":"p","type":"quantitative","scale":{"domain":[2628.3,4740.8],"nice":false,"zero":false,"padding":0}}}},
 {"mark":{"type":"text","align":"left","baseline":"middle","dx":7,"color":"white","fontSize":11,"font":"Liberation Sans"},"encoding":{"x":{"datum":1545168960000,"type":"temporal","scale":{"type":"utc","domain":[1541995920000,1545168960000],"padding":0}},"y":{"field":"p","type":"quantitative","scale":{"domain":[2628.3,4740.8],"nice":false,"zero":false,"padding":0}},"text":{"field":"p","type":"quantitative","format":".1f"}}}
]},
{"data":{"name":"countdown"},"layer":[
 {"mark":{"type":"bar","size":16,"color":"#ef5350"},"encoding":{"x":{"datum":1545171900000,"type":"temporal","scale":{"type":"utc","domain":[1541995920000,1545168960000],"padding":0}},"x2":{"datum":1545320000000},"y":{"field":"p","type":"quantitative","scale":{"domain":[2628.3,4740.8],"nice":false,"zero":false,"padding":0}}}},
 {"mark":{"type":"text","align":"left","baseline":"middle","dx":5,"color":"white","fontSize":11,"font":"Liberation Sans"},"encoding":{"x":{"datum":1545168960000,"type":"temporal","scale":{"type":"utc","domain":[1541995920000,1545168960000],"padding":0}},"y":{"field":"p","type":"quantitative","scale":{"domain":[2628.3,4740.8],"nice":false,"zero":false,"padding":0}},"text":{"field":"txt"}}}
]},
{"data":{"name":"tl_black"},"mark":{"type":"line","color":"#000000","strokeWidth":4,"clip":true},"encoding":{"x":{"field":"t","type":"temporal","scale":{"type":"utc","domain":[1541995920000,1545168960000],"padding":0}},"y":{"field":"p","type":"quantitative","scale":{"domain":[2628.3,4740.8],"nice":false,"zero":false,"padding":0}}}},
{"data":{"name":"tl_bthin"},"mark":{"type":"line","color":"#0000ff","strokeWidth":2,"clip":true},"encoding":{"x":{"field":"t","type":"temporal","scale":{"type":"utc","domain":[1541995920000,1545168960000],"padding":0}},"y":{"field":"p","type":"quantitative","scale":{"domain":[2628.3,4740.8],"nice":false,"zero":false,"padding":0}}}},
{"data":{"name":"tl_bthick"},"mark":{"type":"line","color":"#0000ff","strokeWidth":4.5,"clip":true},"encoding":{"x":{"field":"t","type":"temporal","scale":{"type":"utc","domain":[1541995920000,1545168960000],"padding":0}},"y":{"field":"p","type":"quantitative","scale":{"domain":[2628.3,4740.8],"nice":false,"zero":false,"padding":0}},"detail":{"field":"id"}}},
{"data":{"name":"tl_black2"},"mark":{"type":"line","color":"#000000","strokeWidth":3,"clip":true},"encoding":{"x":{"field":"t","type":"temporal","scale":{"type":"utc","domain":[1541995920000,1545168960000],"padding":0}},"y":{"field":"p","type":"quantitative","scale":{"domain":[2628.3,4740.8],"nice":false,"zero":false,"padding":0}}}},
{"data":{"name":"ellipse"},"mark":{"type":"line","color":"#000000","strokeWidth":3,"interpolate":"cardinal-closed","clip":true},"encoding":{"x":{"field":"t","type":"temporal","scale":{"type":"utc","domain":[1541995920000,1545168960000],"padding":0}},"y":{"field":"p","type":"quantitative","scale":{"domain":[2628.3,4740.8],"nice":false,"zero":false,"padding":0}},"order":{"field":"i"}}},
{"data":{"values":[{}]},"mark":{"type":"text","align":"left","baseline":"middle","dx":8,"dy":16,"font":"Open Sans","fontSize":12.25,"fontWeight":600,"color":"#4a4a4a"},"encoding":{"x":{"datum":1541995920000,"type":"temporal","scale":{"type":"utc","domain":[1541995920000,1545168960000],"padding":0}},"y":{"datum":4740.8,"type":"quantitative","scale":{"domain":[2628.3,4740.8],"nice":false,"zero":false,"padding":0}},"text":{"value":"Bitcoin / US Dollar Perpetual Inverse Swap Contract, 240, BITMEX"}}},
{"data":{"values":[{}]},"mark":{"type":"text","align":"left","baseline":"middle","dx":8,"dy":33,"font":"Open Sans","fontSize":12,"color":"#555555"},"encoding":{"x":{"datum":1541995920000,"type":"temporal","scale":{"type":"utc","domain":[1541995920000,1545168960000],"padding":0}},"y":{"datum":4740.8,"type":"quantitative","scale":{"domain":[2628.3,4740.8],"nice":false,"zero":false,"padding":0}},"text":{"value":"Scalper&#039;s Channel (20, 15)"}}}
]},
{"width":1087,"height":158,
"layer":[
{"data":{"values":[{}]},"mark":{"type":"rect","color":"#f3e9fd"},"encoding":{"x":{"datum":1541995920000,"type":"temporal","scale":{"type":"utc","domain":[1541995920000,1545168960000],"padding":0},"axis":{"values":[1542240000000,1542585600000,1542844800000,1543190400000,1543622400000,1543881600000,1544140800000,1544400000000,1544659200000,1545004800000],"title":null,"labels":false}},"x2":{"datum":1545168960000},"y":{"datum":30,"type":"quantitative","scale":{"domain":[-2.55,87.1],"nice":false,"zero":false,"padding":0},"axis":{"orient":"right","values":[0,20,40,60,80],"labelExpr":"datum.value >= 40 ? '' : format(datum.value, '.4f')","title":null}},"y2":{"datum":70}}},
{"data":{"name":"rsi_band"},"mark":{"type":"rule","color":"#a6a6b0","strokeWidth":1,"strokeDash":[5,4]},"encoding":{"y":{"field":"p","type":"quantitative","scale":{"domain":[-2.55,87.1],"nice":false,"zero":false,"padding":0}}}},
{"data":{"name":"rsi_lv_red"},"layer":[
 {"mark":{"type":"rule","color":"#ff0000","strokeWidth":4},"encoding":{"y":{"field":"p","type":"quantitative","scale":{"domain":[-2.55,87.1],"nice":false,"zero":false,"padding":0}}}},
 {"mark":{"type":"bar","size":16,"color":"#ff0000"},"encoding":{"x":{"datum":1545171900000,"type":"temporal","scale":{"type":"utc","domain":[1541995920000,1545168960000],"padding":0}},"x2":{"datum":1545326640000},"y":{"field":"p","type":"quantitative","scale":{"domain":[-2.55,87.1],"nice":false,"zero":false,"padding":0}}}},
 {"mark":{"type":"text","align":"left","baseline":"middle","dx":7,"color":"white","fontSize":11,"font":"Liberation Sans"},"encoding":{"x":{"datum":1545168960000,"type":"temporal","scale":{"type":"utc","domain":[1541995920000,1545168960000],"padding":0}},"y":{"field":"p","type":"quantitative","scale":{"domain":[-2.55,87.1],"nice":false,"zero":false,"padding":0}},"text":{"field":"p","type":"quantitative","format":".4f"}}}
]},
{"data":{"name":"rsi_lv_blue"},"layer":[
 {"mark":{"type":"rule","color":"#0000ff","strokeWidth":4},"encoding":{"y":{"field":"p","type":"quantitative","scale":{"domain":[-2.55,87.1],"nice":false,"zero":false,"padding":0}}}},
 {"mark":{"type":"bar","size":16,"color":"#0000ff"},"encoding":{"x":{"datum":1545171900000,"type":"temporal","scale":{"type":"utc","domain":[1541995920000,1545168960000],"padding":0}},"x2":{"datum":1545326640000},"y":{"field":"p","type":"quantitative","scale":{"domain":[-2.55,87.1],"nice":false,"zero":false,"padding":0}}}},
 {"mark":{"type":"text","align":"left","baseline":"middle","dx":7,"color":"white","fontSize":11,"font":"Liberation Sans"},"encoding":{"x":{"datum":1545168960000,"type":"temporal","scale":{"type":"utc","domain":[1541995920000,1545168960000],"padding":0}},"y":{"field":"p","type":"quantitative","scale":{"domain":[-2.55,87.1],"nice":false,"zero":false,"padding":0}},"text":{"field":"p","type":"quantitative","format":".4f"}}}
]},
{"data":{"name":"rsi_black"},"mark":{"type":"line","color":"#000000","strokeWidth":3.5,"clip":true},"encoding":{"x":{"field":"t","type":"temporal","scale":{"type":"utc","domain":[1541995920000,1545168960000],"padding":0}},"y":{"field":"p","type":"quantitative","scale":{"domain":[-2.55,87.1],"nice":false,"zero":false,"padding":0}}}},
{"data":{"name":"rsi_red"},"mark":{"type":"line","color":"#ff0000","strokeWidth":4,"clip":true},"encoding":{"x":{"field":"t","type":"temporal","scale":{"type":"utc","domain":[1541995920000,1545168960000],"padding":0}},"y":{"field":"p","type":"quantitative","scale":{"domain":[-2.55,87.1],"nice":false,"zero":false,"padding":0}}}},
{"data":{"name":"rsi"},"mark":{"type":"line","color":"#9c27b0","strokeWidth":1,"clip":true},"encoding":{"x":{"field":"t","type":"temporal","scale":{"type":"utc","domain":[1541995920000,1545168960000],"padding":0}},"y":{"field":"p","type":"quantitative","scale":{"domain":[-2.55,87.1],"nice":false,"zero":false,"padding":0}}}},
{"data":{"values":[{}]},"mark":{"type":"text","align":"left","baseline":"middle","dx":8,"dy":18,"font":"Open Sans","fontSize":12,"color":"#555555"},"encoding":{"x":{"datum":1541995920000,"type":"temporal","scale":{"type":"utc","domain":[1541995920000,1545168960000],"padding":0}},"y":{"datum":87.1,"type":"quantitative","scale":{"domain":[-2.55,87.1],"nice":false,"zero":false,"padding":0}},"text":{"value":"RSI (7, close)"}}}
]},
{"width":1087,"height":130,
"layer":[
{"data":{"name":"roc_green"},"mark":{"type":"rule","color":"#2e7d32","strokeWidth":1},"encoding":{"y":{"field":"p","type":"quantitative","scale":{"domain":[11.6,73.5],"nice":false,"zero":false,"padding":0},"axis":{"orient":"right","values":[20,40,60],"labelExpr":"datum.value >= 40 ? '' : format(datum.value, '.4f')","title":null}}}},
{"data":{"name":"roc_thin_red"},"mark":{"type":"rule","color":"#ff0000","strokeWidth":1.5},"encoding":{"y":{"field":"p","type":"quantitative","scale":{"domain":[11.6,73.5],"nice":false,"zero":false,"padding":0}}}},
{"data":{"name":"roc_lv_red"},"layer":[
 {"mark":{"type":"rule","color":"#ff0000","strokeWidth":4},"encoding":{"y":{"field":"p","type":"quantitative","scale":{"domain":[11.6,73.5],"nice":false,"zero":false,"padding":0}}}},
 {"transform":[{"filter":"datum.p < 70"}],"mark":{"type":"bar","size":16,"color":"#ff0000"},"encoding":{"x":{"datum":1545171900000,"type":"temporal","scale":{"type":"utc","domain":[1541995920000,1545168960000],"padding":0}},"x2":{"datum":1545326640000},"y":{"field":"p","type":"quantitative","scale":{"domain":[11.6,73.5],"nice":false,"zero":false,"padding":0}}}},
 {"transform":[{"filter":"datum.p < 70"}],"mark":{"type":"text","align":"left","baseline":"middle","dx":7,"color":"white","fontSize":11,"font":"Liberation Sans"},"encoding":{"x":{"datum":1545168960000,"type":"temporal","scale":{"type":"utc","domain":[1541995920000,1545168960000],"padding":0}},"y":{"field":"p","type":"quantitative","scale":{"domain":[11.6,73.5],"nice":false,"zero":false,"padding":0}},"text":{"field":"p","type":"quantitative","format":".4f"}}},
 {"transform":[{"filter":"datum.p > 70"}],"mark":{"type":"bar","size":10,"yOffset":3,"color":"#ff0000"},"encoding":{"x":{"datum":1545171900000,"type":"temporal","scale":{"type":"utc","domain":[1541995920000,1545168960000],"padding":0}},"x2":{"datum":1545326640000},"y":{"field":"p","type":"quantitative","scale":{"domain":[11.6,73.5],"nice":false,"zero":false,"padding":0}}}},
 {"transform":[{"filter":"datum.p > 70"}],"mark":{"type":"text","align":"left","baseline":"middle","dx":7,"dy":4,"color":"white","fontSize":11,"font":"Liberation Sans"},"encoding":{"x":{"datum":1545168960000,"type":"temporal","scale":{"type":"utc","domain":[1541995920000,1545168960000],"padding":0}},"y":{"field":"p","type":"quantitative","scale":{"domain":[11.6,73.5],"nice":false,"zero":false,"padding":0}},"text":{"field":"p","type":"quantitative","format":".4f"}}}
]},
{"data":{"name":"roc_lv_blue_dash"},"layer":[
 {"mark":{"type":"rule","color":"#0000ff","strokeWidth":4,"strokeDash":[22,18]},"encoding":{"y":{"field":"p","type":"quantitative","scale":{"domain":[11.6,73.5],"nice":false,"zero":false,"padding":0}}}},
 {"mark":{"type":"bar","size":16,"color":"#0000ff"},"encoding":{"x":{"datum":1545171900000,"type":"temporal","scale":{"type":"utc","domain":[1541995920000,1545168960000],"padding":0}},"x2":{"datum":1545326640000},"y":{"field":"p","type":"quantitative","scale":{"domain":[11.6,73.5],"nice":false,"zero":false,"padding":0}}}},
 {"mark":{"type":"text","align":"left","baseline":"middle","dx":7,"color":"white","fontSize":11,"font":"Liberation Sans"},"encoding":{"x":{"datum":1545168960000,"type":"temporal","scale":{"type":"utc","domain":[1541995920000,1545168960000],"padding":0}},"y":{"field":"p","type":"quantitative","scale":{"domain":[11.6,73.5],"nice":false,"zero":false,"padding":0}},"text":{"field":"p","type":"quantitative","format":".4f"}}}
]},
{"data":{"name":"roc_blue"},"mark":{"type":"line","color":"#0000ff","strokeWidth":2.5,"clip":true},"encoding":{"x":{"field":"t","type":"temporal","scale":{"type":"utc","domain":[1541995920000,1545168960000],"padding":0},"axis":{"values":[1542240000000,1542585600000,1542844800000,1543190400000,1543622400000,1543881600000,1544140800000,1544400000000,1544659200000,1545004800000],"title":null,"labelExpr":"utcdate(datum.value) == 1 ? 'Dec' : '' + utcdate(datum.value)","labelFontWeight":{"condition":{"test":"utcdate(datum.value) == 1","value":"bold"},"value":"normal"},"labelPadding":6,"labelFlush":false,"labelOverlap":false}},"y":{"field":"p","type":"quantitative","scale":{"domain":[11.6,73.5],"nice":false,"zero":false,"padding":0}}}},
{"data":{"name":"roc_black"},"mark":{"type":"line","color":"#000000","strokeWidth":4,"clip":true},"encoding":{"x":{"field":"t","type":"temporal","scale":{"type":"utc","domain":[1541995920000,1545168960000],"padding":0}},"y":{"field":"p","type":"quantitative","scale":{"domain":[11.6,73.5],"nice":false,"zero":false,"padding":0}}}},
{"data":{"name":"roc"},"mark":{"type":"line","color":"#4444ff","strokeWidth":1,"clip":true},"encoding":{"x":{"field":"t","type":"temporal","scale":{"type":"utc","domain":[1541995920000,1545168960000],"padding":0}},"y":{"field":"p","type":"quantitative","scale":{"domain":[11.6,73.5],"nice":false,"zero":false,"padding":0}}}},
{"data":{"values":[{}]},"mark":{"type":"text","align":"left","baseline":"middle","dx":8,"dy":17,"font":"Open Sans","fontSize":12,"color":"#555555"},"encoding":{"x":{"datum":1541995920000,"type":"temporal","scale":{"type":"utc","domain":[1541995920000,1545168960000],"padding":0}},"y":{"datum":73.5,"type":"quantitative","scale":{"domain":[11.6,73.5],"nice":false,"zero":false,"padding":0}},"text":{"value":"RSI/ROC (20, 20)"}}}
]}
]
}
